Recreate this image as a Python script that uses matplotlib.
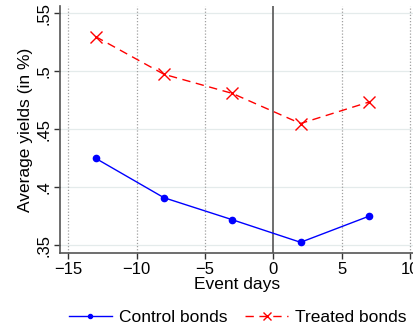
import numpy as np
import matplotlib.pyplot as plt

plt.rcParams['font.family'] = ['Liberation Sans', 'DejaVu Sans']

# event-day averages
days = [-13, -8, -3, 2, 7]
control = [0.425, 0.391, 0.372, 0.3525, 0.375]
treated = [0.530, 0.4975, 0.481, 0.455, 0.4735]

xticks = [-15, -10, -5, 0, 5, 10]
yticks = [0.35, 0.40, 0.45, 0.50, 0.55]
ylabels = ['.35', '.4', '.45', '.5', '.55']

fig = plt.figure(figsize=(4.14, 3.32), dpi=100)
ax = fig.add_axes([0.145, 0.237, 0.855, 0.746])

for y in yticks:
    ax.axhline(y, color='#e4ebeb', lw=0.9, zorder=0)
for x in xticks:
    if x != 0:
        ax.axvline(x, color='#a0a0a0', lw=0.9, ls=(0, (1, 1.5)), zorder=0)
ax.axvline(0, color='#555555', lw=1.2, zorder=1)

ax.plot(days, control, color='#0000ff', lw=1.0, marker='o', ms=4.5,
        label='Control bonds', zorder=3)
ax.plot(days, treated, color='#ff0000', lw=1.0, ls=(0, (6, 4)), marker='x',
        ms=8, mew=1.0, label='Treated bonds', zorder=3)

ax.set_xlim(-15.6, 10.3)
ax.set_ylim(0.343, 0.5567)
ax.set_xticks(xticks)
ax.set_xticklabels(['\u221215', '\u221210', '\u22125', '0', '5', '10'])
ax.set_yticks(yticks)
ax.set_yticklabels(ylabels, rotation=90, va='center')
ax.tick_params(labelsize=12, length=4, width=1, color='#333333', pad=2)

for s in ['top', 'right']:
    ax.spines[s].set_visible(False)
for s in ['left', 'bottom']:
    ax.spines[s].set_color('#555555')
    ax.spines[s].set_linewidth(1.2)

ax.set_xlabel('Event days', fontsize=12.5, labelpad=0)
ax.set_ylabel('Average yields (in %)', fontsize=12.5, labelpad=3)

fig.legend(loc='center', bbox_to_anchor=(0.574, 0.043), ncol=2, frameon=False,
           fontsize=12.5, handlelength=2.5, columnspacing=1.0, handletextpad=0.4,
           markerscale=0.65, borderpad=0, borderaxespad=0)

fig.savefig('out.png', dpi=100)
